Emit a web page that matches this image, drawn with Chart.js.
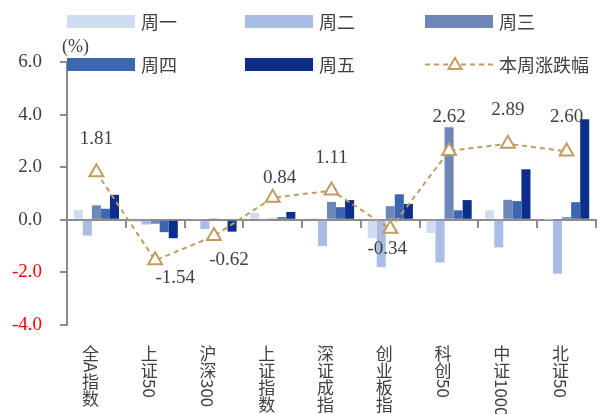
<!DOCTYPE html>
<html>
<head>
<meta charset="utf-8">
<script src="https://cdn.jsdelivr.net/npm/chart.js@4"></script>
<style>
  html, body { margin: 0; padding: 0; background: #fff; }
  #wrap { position: relative; width: 606px; height: 414px; }
</style>
</head>
<body>
<div id="wrap"><canvas id="chart"></canvas></div>
<script>
// categories and daily returns (%)
const categories = ['全A指数', '上证50', '沪深300', '上证指数', '深证成指', '创业板指', '科创50', '中证1000', '北证50'];
const dayNames = ['周一', '周二', '周三', '周四', '周五'];
const monValues = [0.38, -0.08, 0.02, 0.26, 0.06, -0.70, -0.50, 0.36, 0.01];
const tueValues = [-0.60, -0.18, -0.35, 0.02, -1.00, -1.80, -1.62, -1.05, -2.05];
const wedValues = [0.55, -0.15, 0.05, 0.05, 0.68, 0.52, 3.52, 0.76, 0.10];
const thuValues = [0.42, -0.47, -0.03, 0.10, 0.48, 0.97, 0.36, 0.71, 0.67];
const friValues = [0.95, -0.70, -0.45, 0.30, 0.75, 0.60, 0.75, 1.92, 3.82];
const weekValues = [1.81, -1.54, -0.62, 0.84, 1.11, -0.34, 2.62, 2.89, 2.60];
const yTicks = [-4, -2, 0, 2, 4, 6];

const dayColors = ['#D0DCF0', '#A8BCE4', '#6E86B8', '#3D66B0', '#0B2F8A'];
const lineColor = '#C19C61';
const textColor = '#404040';
const axisColor = '#8C8C8C';
const serif = '"Liberation Serif", "Times New Roman", serif';
const cjk = '"Noto Sans CJK SC", "Noto Sans", sans-serif';

// label nudges (px), like the hand-moved labels in the original
const labelShift = [[0, -33], [20, 18], [15, 24], [7, -20], [0, -33], [-3, 20], [0, -34], [0, -34], [0, -34]];

const dayData = [monValues, tueValues, wedValues, thuValues, friValues];
const datasets = dayData.map((vals, i) => ({
    type: 'bar',
    label: dayNames[i],
    data: vals,
    backgroundColor: dayColors[i],
    borderWidth: 0,
    barPercentage: 1,
    categoryPercentage: 0.77,
    order: 1
}));
datasets.push({
    type: 'line',
    label: '本周涨跌幅',
    data: weekValues,
    borderColor: lineColor,
    borderWidth: 2,
    borderDash: [5, 4],
    pointStyle: 'triangle',
    pointRadius: 8,
    pointBorderWidth: 2,
    pointBorderColor: lineColor,
    pointBackgroundColor: '#fff',
    order: 0
});

const overlay = {
    id: 'overlay',
    afterDatasetsDraw(chart) {
        const ctx = chart.ctx;
        const meta = chart.getDatasetMeta(5);
        ctx.save();
        ctx.font = '19px ' + serif;
        ctx.fillStyle = textColor;
        ctx.textAlign = 'center';
        ctx.textBaseline = 'middle';
        meta.data.forEach((pt, i) => {
            const s = labelShift[i];
            ctx.fillText(weekValues[i].toFixed(2), pt.x + s[0], pt.y + s[1]);
        });
        ctx.restore();
    },
    afterDraw(chart) {
        const ctx = chart.ctx;
        const area = chart.chartArea;
        const x = chart.scales.x;
        ctx.save();

        // unit label
        ctx.font = '18px ' + serif;
        ctx.fillStyle = textColor;
        ctx.textAlign = 'left';
        ctx.textBaseline = 'middle';
        ctx.fillText('(%)', area.left - 5, area.top - 15);

        // legend, 2 rows x 3 columns
        const colX = [67, 245, 425];
        const rowY = [15, 58];
        ctx.font = '18px ' + cjk;
        chart.data.datasets.forEach((ds, i) => {
            const cx = colX[i % 3];
            const cy = rowY[Math.floor(i / 3)];
            if (ds.type === 'bar') {
                ctx.fillStyle = ds.backgroundColor;
                ctx.fillRect(cx, cy, 68, 13);
            } else {
                ctx.strokeStyle = ds.borderColor;
                ctx.lineWidth = 2;
                ctx.setLineDash([5, 4]);
                ctx.beginPath();
                ctx.moveTo(cx, cy + 6.5);
                ctx.lineTo(cx + 68, cy + 6.5);
                ctx.stroke();
                ctx.setLineDash([]);
                const tx = cx + 30, ty = cy + 6;
                ctx.fillStyle = '#fff';
                ctx.beginPath();
                ctx.moveTo(tx, ty - 6);
                ctx.lineTo(tx + 6.5, ty + 5);
                ctx.lineTo(tx - 6.5, ty + 5);
                ctx.closePath();
                ctx.fill();
                ctx.stroke();
            }
            ctx.fillStyle = textColor;
            ctx.textAlign = 'left';
            ctx.textBaseline = 'middle';
            ctx.fillText(ds.label, cx + 74, cy + 7);
        });

        // vertical category labels at the bottom
        ctx.font = '17px ' + cjk;
        ctx.fillStyle = textColor;
        categories.forEach((name, i) => {
            const lx = x.getPixelForValue(i) - 6;
            let ly = area.bottom + 20;
            const runs = name.match(/[\u4e00-\u9fff]|[^\u4e00-\u9fff]+/g);
            runs.forEach(run => {
                if (/[\u4e00-\u9fff]/.test(run)) {
                    ctx.textAlign = 'center';
                    ctx.textBaseline = 'top';
                    ctx.fillText(run, lx, ly);
                    ly += 17;
                } else {
                    const w = ctx.measureText(run).width;
                    ctx.save();
                    ctx.translate(lx, ly);
                    ctx.rotate(Math.PI / 2);
                    ctx.textAlign = 'left';
                    ctx.textBaseline = 'middle';
                    ctx.fillText(run, 0, 0);
                    ctx.restore();
                    ly += w + 1;
                }
            });
        });
        ctx.restore();
    }
};

new Chart(document.getElementById('chart'), {
    data: { labels: categories, datasets: datasets },
    plugins: [overlay],
    options: {
        responsive: true,
        maintainAspectRatio: false,
        animation: false,
        layout: { padding: { top: 62, left: 0, right: 2, bottom: 89 } },
        plugins: {
            legend: { display: false },
            tooltip: { enabled: false }
        },
        scales: {
            x: {
                type: 'category',
                position: { y: 0 },
                offset: true,
                grid: {
                    drawOnChartArea: false,
                    offset: true,
                    drawTicks: true,
                    tickLength: 7,
                    color: axisColor,
                    lineWidth: 2
                },
                border: { color: axisColor, width: 2 },
                ticks: { display: false }
            },
            y: {
                min: -4,
                max: 6,
                afterBuildTicks(scale) {
                    scale.ticks = yTicks.map(v => ({ value: v }));
                },
                afterFit(scale) {
                    scale.width = 67;
                },
                grid: {
                    drawOnChartArea: false,
                    drawTicks: true,
                    tickLength: 7,
                    color: axisColor,
                    lineWidth: 2
                },
                border: { color: axisColor, width: 2 },
                ticks: {
                    padding: 18,
                    font: { family: serif, size: 19 },
                    color: ctx => ctx.tick.value < 0 ? '#FF0000' : textColor,
                    callback: v => v.toFixed(1)
                }
            }
        }
    }
});
</script>
</body>
</html>
